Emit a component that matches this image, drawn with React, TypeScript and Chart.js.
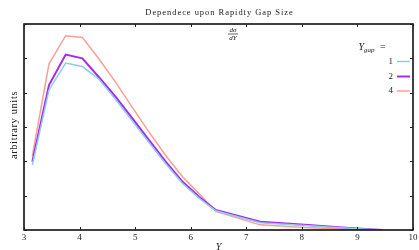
import React, { useEffect, useRef } from "react";
import { Chart, registerables } from "chart.js";

Chart.register(...registerables);

const titleText = "Dependece upon Rapidty Gap Size";
const xLabel = "Y";
const yLabel = "arbitrary units";
const xTicks = [3, 4, 5, 6, 7, 8, 9, 10];
const yTicks = [0, 1, 2, 3, 4, 5, 6];

const rapidity = [3.15, 3.45, 3.75, 4.05, 4.35, 4.65, 4.95, 5.25, 5.55, 5.85, 6.15, 6.45, 7.25, 8.05, 8.85, 9.45];
const gap1 = [1.89, 4.08, 4.86, 4.76, 4.39, 3.8, 3.17, 2.55, 1.93, 1.36, 0.93, 0.56, 0.21, 0.13, 0.05, 0];
const gap2 = [1.99, 4.22, 5.11, 5.0, 4.45, 3.88, 3.25, 2.62, 1.99, 1.41, 0.97, 0.58, 0.24, 0.15, 0.06, 0];
const gap4 = [2.16, 4.84, 5.66, 5.61, 4.98, 4.3, 3.57, 2.85, 2.17, 1.56, 1.06, 0.54, 0.15, 0.07, 0.02, 0];

const seriesLabels = ["1", "2", "4"];
const seriesColors = ["#8ecde8", "#a42af0", "#f7a096"];
const seriesValues = [gap1, gap2, gap4];

const SERIF = "'Liberation Serif', 'DejaVu Serif', serif";

const framePlugin = {
  id: "frame",
  afterDatasetsDraw(chart: any) {
    const ctx = chart.ctx;
    const { left, right, top, bottom } = chart.chartArea;
    const xs = chart.scales.x;
    const ys = chart.scales.y;
    ctx.save();
    ctx.strokeStyle = "#000";
    ctx.lineWidth = 1.5;
    ctx.strokeRect(left, top, right - left, bottom - top);
    ctx.lineWidth = 1;
    ctx.strokeStyle = "#222";
    const tl = 3;
    xTicks.forEach((v) => {
      const px = Math.round(xs.getPixelForValue(v)) + 0.5;
      ctx.beginPath();
      ctx.moveTo(px, bottom);
      ctx.lineTo(px, bottom - tl);
      ctx.moveTo(px, top);
      ctx.lineTo(px, top + tl);
      ctx.stroke();
    });
    yTicks.forEach((v) => {
      const py = Math.round(ys.getPixelForValue(v)) + 0.5;
      ctx.beginPath();
      ctx.moveTo(left, py);
      ctx.lineTo(left + tl, py);
      ctx.moveTo(right, py);
      ctx.lineTo(right - tl, py);
      ctx.stroke();
    });
    ctx.fillStyle = "#222";
    ctx.font = `9px ${SERIF}`;
    ctx.textAlign = "center";
    ctx.textBaseline = "middle";
    xTicks.forEach((v) => {
      ctx.fillText(String(v), xs.getPixelForValue(v), bottom + 8);
    });
    ctx.font = `8.5px ${SERIF}`;
    (ctx as any).letterSpacing = "0.95px";
    ctx.fillStyle = "#222";
    ctx.fillText(titleText, (left + right) / 2 + 1, 13);
    (ctx as any).letterSpacing = "0px";
    ctx.font = `italic 10px ${SERIF}`;
    ctx.fillText(xLabel, xs.getPixelForValue(6.5), 247);
    ctx.save();
    ctx.translate(14, (top + bottom) / 2 - 2);
    ctx.rotate(-Math.PI / 2);
    ctx.font = `10.5px ${SERIF}`;
    (ctx as any).letterSpacing = "0.6px";
    ctx.fillText(yLabel, 0, 0);
    (ctx as any).letterSpacing = "0px";
    ctx.restore();
    const fx = 233;
    ctx.font = `italic 7px ${SERIF}`;
    ctx.fillText("d\u03C3", fx, 30);
    ctx.fillText("dY", fx, 38);
    ctx.lineWidth = 0.7;
    ctx.beginPath();
    ctx.moveTo(fx - 5, 34);
    ctx.lineTo(fx + 5, 34);
    ctx.stroke();
    ctx.textAlign = "right";
    ctx.font = `italic 10px ${SERIF}`;
    const gx = 364;
    ctx.fillText("Y", gx, 47);
    ctx.font = `italic 7px ${SERIF}`;
    ctx.textAlign = "left";
    ctx.fillText("gap", gx, 50);
    ctx.font = `10px ${SERIF}`;
    ctx.fillText("=", gx + 16, 47.5);
    const rows = [61.5, 76.5, 91];
    seriesLabels.forEach((lab, i) => {
      ctx.textAlign = "right";
      ctx.font = `9px ${SERIF}`;
      ctx.fillStyle = "#222";
      ctx.fillText(lab, 393, rows[i]);
      ctx.strokeStyle = seriesColors[i];
      ctx.lineWidth = i === 1 ? 2 : 1.5;
      ctx.beginPath();
      ctx.moveTo(397, rows[i]);
      ctx.lineTo(410, rows[i]);
      ctx.stroke();
    });
    ctx.restore();
  },
};

export default function App() {
  const ref = useRef<HTMLCanvasElement | null>(null);
  useEffect(() => {
    if (!ref.current) return;
    const datasets = seriesValues.map((vals, i) => ({
      label: seriesLabels[i],
      data: rapidity.map((x, j) => ({ x, y: vals[j] })),
      borderColor: seriesColors[i],
      backgroundColor: seriesColors[i],
      borderWidth: i === 1 ? 2 : 1.5,
      pointRadius: 0,
      tension: 0,
      fill: false,
    }));
    const chart = new Chart(ref.current, {
      type: "line",
      data: { datasets },
      options: {
        animation: false,
        responsive: false,
        maintainAspectRatio: false,
        layout: { padding: { left: 24, right: 6, top: 24, bottom: 20 } },
        plugins: { legend: { display: false }, title: { display: false }, tooltip: { enabled: false } },
        scales: {
          x: {
            type: "linear",
            min: 3,
            max: 10,
            ticks: { display: false, stepSize: 1 },
            grid: { display: false },
            border: { display: false },
            afterFit: (s: any) => { s.height = 0; },
          },
          y: {
            type: "linear",
            min: 0,
            max: 6,
            ticks: { display: false, stepSize: 1 },
            grid: { display: false },
            border: { display: false },
            afterFit: (s: any) => { s.width = 0; },
          },
        },
      },
      plugins: [framePlugin],
    });
    return () => chart.destroy();
  }, []);
  return (
    <div style={{ position: "fixed", left: 0, top: 0, width: 419, height: 250, background: "#fff" }}>
      <canvas ref={ref} width={419} height={250} style={{ width: 419, height: 250, display: "block" }} />
    </div>
  );
}
